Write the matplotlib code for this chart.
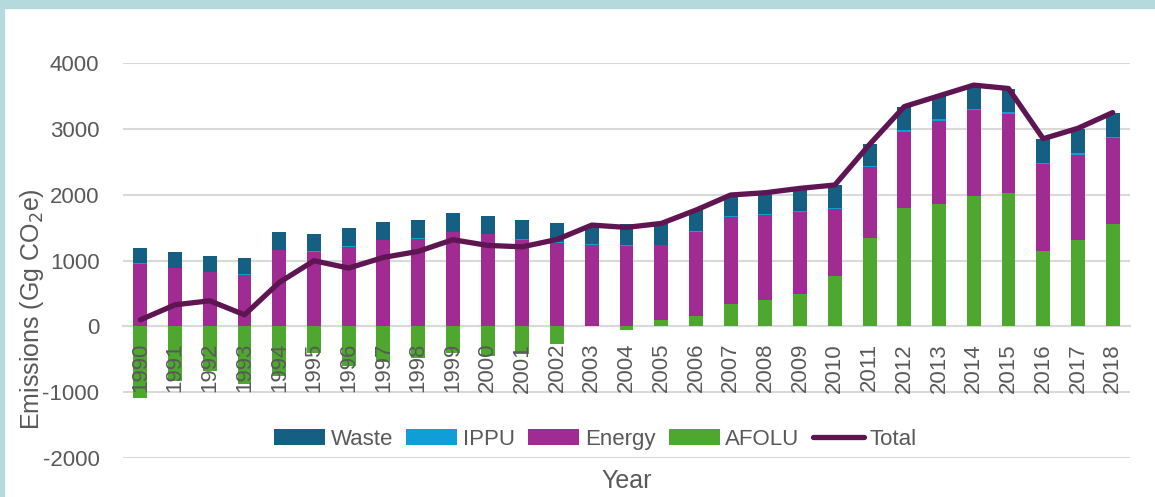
#!/usr/bin/env python3
"""Emissions by sector, stacked bars with total line"""

import numpy as np
import matplotlib.pyplot as plt
from matplotlib.patches import Rectangle

years = [str(y) for y in range(1990, 2019)]

afolu = [-1092, -824, -684, -874, -760, -406, -605, -543, -482, -409,
         -451, -416, -264, 5, -51, 102, 162, 345, 406, 492,
         761, 1338, 1796, 1858, 1975, 2025, 1145, 1313, 1552]
energy = [946, 879, 818, 778, 1153, 1133, 1204, 1305, 1326, 1427,
          1396, 1310, 1269, 1234, 1223, 1126, 1269, 1310, 1279, 1249,
          1021, 1084, 1161, 1267, 1307, 1207, 1323, 1293, 1303]
ippu = [10, 10, 10, 10, 12, 12, 12, 12, 12, 12,
        12, 14, 14, 14, 14, 14, 15, 15, 16, 16,
        17, 20, 20, 18, 25, 28, 16, 20, 20]
waste = [233, 244, 244, 243, 262, 257, 274, 273, 282, 286,
         272, 290, 286, 287, 317, 321, 320, 320, 324, 333,
         341, 321, 353, 352, 343, 350, 366, 374, 365]
total = [99, 327, 388, 175, 667, 996, 885, 1047, 1138, 1316,
         1229, 1208, 1320, 1538, 1503, 1563, 1766, 1995, 2030, 2096,
         2147, 2763, 3338, 3501, 3664, 3613, 2850, 3008, 3247]

series = [("AFOLU", afolu, "#4ea72e"),
          ("Energy", energy, "#a02b93"),
          ("IPPU", ippu, "#0f9ed5"),
          ("Waste", waste, "#156082")]

plt.rcParams['font.family'] = ['Liberation Sans', 'DejaVu Sans']
plt.rcParams['axes.unicode_minus'] = False
grey = "#595959"

fig = plt.figure(figsize=(11.55, 4.97), dpi=100)
ax = fig.add_axes([123 / 1155, 1 - 458 / 497, 1007 / 1155, 395 / 497])

x = np.arange(len(years))
pos_base = np.zeros(len(years))
neg_base = np.zeros(len(years))
handles = {}
for name, vals, color in series:
    v = np.array(vals, dtype=float)
    bottom = np.where(v >= 0, pos_base, neg_base)
    handles[name] = ax.bar(x, v, 0.4, bottom=bottom, color=color,
                           label=name, zorder=2)
    pos_base += np.where(v >= 0, v, 0)
    neg_base += np.where(v < 0, v, 0)

line, = ax.plot(x, total, color="#5f1552", lw=3.8, label="Total",
                zorder=4, solid_capstyle='round', solid_joinstyle='round')

ax.set_xlim(-0.5, len(years) - 0.5)
ax.set_ylim(-2000, 4000)
ax.set_yticks(range(-2000, 4001, 1000))
ax.grid(axis='y', color="#d9d9d9", lw=1.5, zorder=0)
ax.set_axisbelow(True)
for s in ["top", "right", "left"]:
    ax.spines[s].set_visible(False)
ax.spines["bottom"].set_position(("data", 0))
ax.spines["bottom"].set_color("#d9d9d9")
ax.spines["bottom"].set_linewidth(1.5)
ax.spines["bottom"].set_zorder(1)

ax.set_xticks(x)
ax.set_xticklabels(years, rotation=90, va='top', ha='center')
ax.tick_params(axis='x', length=0, pad=12, labelsize=16, labelcolor=grey)
ax.tick_params(axis='y', length=0, pad=17, labelsize=16, labelcolor=grey)
ax.xaxis.set_zorder(3)

ax.set_ylabel("Emissions (Gg CO$_2$e)", fontsize=18, color=grey)
ax.yaxis.set_label_coords(-0.076, 0.377)
fig.text(627 / 1155, 1 - 481 / 497, "Year", fontsize=18, color=grey,
         ha='center', va='center')

leg = ax.legend([handles["Waste"], handles["IPPU"], handles["Energy"],
                 handles["AFOLU"], line],
                ["Waste", "IPPU", "Energy", "AFOLU", "Total"],
                loc='center', bbox_to_anchor=(0.469, 0.047), ncol=5,
                frameon=False, fontsize=16, handlelength=2.3,
                handleheight=0.7, handletextpad=0.25, columnspacing=0.6)
for t in leg.get_texts():
    t.set_color(grey)

# light teal frame on top and left edges
fig.patches.append(Rectangle((0, 1 - 8 / 497), 1, 8 / 497,
                             transform=fig.transFigure, color="#b5d9dc",
                             zorder=0))
fig.patches.append(Rectangle((0, 0), 4 / 1155, 1,
                             transform=fig.transFigure, color="#b5d9dc",
                             zorder=0))

fig.savefig("out.png", dpi=100)
